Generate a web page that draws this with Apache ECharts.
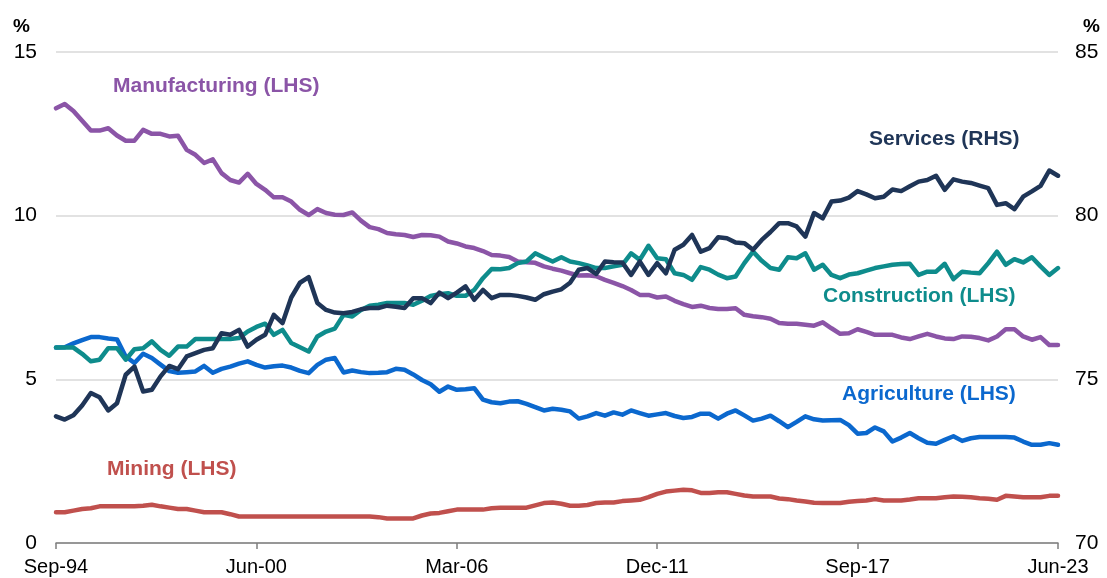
<!DOCTYPE html>
<html>
<head>
<meta charset="utf-8">
<script src="https://cdn.jsdelivr.net/npm/echarts@6/dist/echarts.min.js"></script>
<style>
  html, body { margin: 0; padding: 0; background: #fff; }
  #chart { width: 1107px; height: 578px; }
</style>
</head>
<body>
<div id="chart"></div>
<script>
// quarterly, Sep-94 .. Jun-23
const quarterNames = ['Mar', 'Jun', 'Sep', 'Dec'];
const quarters = [];
for (let k = 0; k < 116; k++) {
  const q = (2 + k) % 4;
  const yr = 1994 + Math.floor((2 + k) / 4);
  quarters.push(quarterNames[q] + '-' + String(yr % 100).padStart(2, '0'));
}

const leftTicks = [0, 5, 10, 15];
const rightTicks = [70, 75, 80, 85];

// share of employment, % (LHS)
const manufacturing = [13.28, 13.41, 13.2, 12.9, 12.6, 12.6, 12.67, 12.45, 12.29, 12.29,
  12.62, 12.5, 12.5, 12.42, 12.44, 12.01, 11.86, 11.61, 11.72, 11.3,
  11.09, 11.01, 11.28, 10.97, 10.79, 10.56, 10.56, 10.43, 10.18, 10.02,
  10.2, 10.08, 10.03, 10.02, 10.1, 9.85, 9.65, 9.59, 9.47, 9.43,
  9.41, 9.35, 9.41, 9.4, 9.36, 9.21, 9.15, 9.06, 9.01, 8.92,
  8.8, 8.78, 8.74, 8.6, 8.58, 8.56, 8.45, 8.38, 8.32, 8.24,
  8.17, 8.18, 8.15, 8.04, 7.95, 7.85, 7.73, 7.58, 7.58, 7.5,
  7.53, 7.4, 7.3, 7.21, 7.25, 7.18, 7.15, 7.15, 7.17, 6.97,
  6.93, 6.9, 6.85, 6.72, 6.7, 6.7, 6.67, 6.64, 6.74, 6.56,
  6.39, 6.41, 6.53, 6.45, 6.36, 6.36, 6.36, 6.28, 6.23, 6.31,
  6.39, 6.31, 6.25, 6.23, 6.31, 6.3, 6.26, 6.19, 6.31, 6.53,
  6.53, 6.31, 6.21, 6.29, 6.05, 6.05];

const construction = [5.97, 5.97, 5.97, 5.78, 5.55, 5.6, 5.95, 5.95, 5.6, 5.92,
  5.95, 6.16, 5.9, 5.72, 6.0, 6.0, 6.23, 6.23, 6.23, 6.23,
  6.23, 6.26, 6.46, 6.6, 6.7, 6.36, 6.51, 6.11, 5.98, 5.85,
  6.31, 6.46, 6.55, 6.97, 6.92, 7.12, 7.25, 7.28, 7.33, 7.33,
  7.33, 7.28, 7.4, 7.55, 7.6, 7.63, 7.55, 7.55, 7.73, 8.09,
  8.37, 8.36, 8.4, 8.55, 8.6, 8.85, 8.72, 8.6, 8.73, 8.6,
  8.55, 8.48, 8.4, 8.4, 8.45, 8.5, 8.85, 8.65, 9.08, 8.7,
  8.67, 8.24, 8.19, 8.04, 8.43, 8.35, 8.2, 8.09, 8.14, 8.55,
  8.9, 8.62, 8.4, 8.35, 8.73, 8.7, 8.85, 8.35, 8.5, 8.19,
  8.09, 8.2, 8.24, 8.32, 8.4, 8.45, 8.5, 8.52, 8.53, 8.19,
  8.29, 8.29, 8.53, 8.06, 8.29, 8.26, 8.24, 8.55, 8.9, 8.5,
  8.67, 8.57, 8.73, 8.45, 8.19, 8.4];

const agriculture = [5.97, 5.98, 6.1, 6.2, 6.29, 6.29, 6.25, 6.22, 5.7, 5.5,
  5.78, 5.65, 5.45, 5.25, 5.2, 5.22, 5.24, 5.41, 5.2, 5.32,
  5.39, 5.48, 5.55, 5.44, 5.36, 5.4, 5.42, 5.36, 5.26, 5.19,
  5.44, 5.6, 5.65, 5.21, 5.27, 5.22, 5.19, 5.2, 5.22, 5.32,
  5.29, 5.15, 4.98, 4.85, 4.62, 4.78, 4.68, 4.7, 4.73, 4.38,
  4.3, 4.27, 4.32, 4.33, 4.25, 4.15, 4.05, 4.1, 4.07, 4.02,
  3.8, 3.87, 3.97, 3.89, 3.99, 3.92, 4.05, 3.97, 3.89, 3.93,
  3.97, 3.88, 3.82, 3.85, 3.95, 3.95, 3.8, 3.95, 4.05, 3.9,
  3.74, 3.8, 3.89, 3.72, 3.54, 3.7, 3.87, 3.78, 3.74, 3.75,
  3.76, 3.6, 3.34, 3.36, 3.53, 3.41, 3.1, 3.22, 3.36, 3.2,
  3.06, 3.03, 3.15, 3.26, 3.12, 3.2, 3.24, 3.24, 3.24, 3.24,
  3.22, 3.1, 3.0, 3.0, 3.05, 3.0];

const mining = [0.94, 0.94, 0.99, 1.04, 1.06, 1.12, 1.12, 1.12, 1.12, 1.12,
  1.14, 1.17, 1.12, 1.08, 1.04, 1.04, 0.99, 0.94, 0.94, 0.94,
  0.88, 0.81, 0.81, 0.81, 0.81, 0.81, 0.81, 0.81, 0.81, 0.81,
  0.81, 0.81, 0.81, 0.81, 0.81, 0.81, 0.81, 0.79, 0.75, 0.75,
  0.75, 0.75, 0.84, 0.9, 0.92, 0.97, 1.02, 1.02, 1.02, 1.02,
  1.06, 1.08, 1.08, 1.08, 1.08, 1.15, 1.22, 1.24, 1.2, 1.14,
  1.14, 1.16, 1.22, 1.24, 1.24, 1.28, 1.3, 1.32, 1.4, 1.5,
  1.57, 1.6, 1.63, 1.61, 1.53, 1.53, 1.55, 1.55, 1.5, 1.45,
  1.42, 1.42, 1.42, 1.36, 1.34, 1.3, 1.27, 1.23, 1.22, 1.22,
  1.22, 1.26, 1.28, 1.3, 1.34, 1.3, 1.3, 1.3, 1.33, 1.37,
  1.37, 1.37, 1.4, 1.42, 1.41, 1.4, 1.37, 1.35, 1.32, 1.44,
  1.42, 1.4, 1.4, 1.4, 1.44, 1.44];

// services, % (RHS)
const services = [73.87, 73.77, 73.9, 74.2, 74.58, 74.45, 74.05, 74.27, 75.14, 75.39,
  74.63, 74.68, 75.09, 75.41, 75.31, 75.7, 75.8, 75.9, 75.95, 76.41,
  76.36, 76.51, 76.0, 76.21, 76.36, 76.97, 76.72, 77.5, 77.95, 78.12,
  77.33, 77.12, 77.04, 77.02, 77.06, 77.14, 77.18, 77.18, 77.25, 77.22,
  77.18, 77.48, 77.48, 77.33, 77.65, 77.48, 77.65, 77.84, 77.43, 77.73,
  77.48, 77.58, 77.58, 77.55, 77.5, 77.43, 77.6, 77.68, 77.75, 77.95,
  78.35, 78.4, 78.22, 78.6, 78.58, 78.57, 78.19, 78.6, 78.19, 78.55,
  78.24, 78.96, 79.11, 79.41, 78.9, 79.01, 79.34, 79.31, 79.18, 79.16,
  78.96, 79.26, 79.5, 79.77, 79.77, 79.67, 79.36, 80.08, 79.92, 80.43,
  80.46, 80.55, 80.75, 80.65, 80.53, 80.58, 80.8, 80.75, 80.9, 81.04,
  81.09, 81.22, 80.79, 81.11, 81.04, 81.0, 80.92, 80.84, 80.33, 80.38,
  80.2, 80.58, 80.74, 80.91, 81.38, 81.22];

const FONT = "'Liberation Sans', Arial, sans-serif";
const purple = '#8B55A7';
const navy = '#1F3557';
const teal = '#0E8C8C';
const blue = '#0B68CE';
const red = '#C0504D';

const chart = echarts.init(document.getElementById('chart'), null, { renderer: 'canvas' });

function lineSeries(name, data, color, axis, z) {
  return {
    name: name,
    type: 'line',
    yAxisIndex: axis,
    data: data,
    symbol: 'none',
    smooth: false,
    z: z,
    lineStyle: { color: color, width: 4.5, join: 'round', cap: 'round' },
    emphasis: { disabled: true }
  };
}

function tag(text, x, y, color) {
  return {
    type: 'text',
    left: x,
    top: y,
    style: {
      text: text,
      fill: color,
      font: 'bold 21px ' + FONT,
      textVerticalAlign: 'middle'
    }
  };
}

const option = {
  animation: false,
  backgroundColor: '#fff',
  grid: { left: 56, right: 49, top: 52, bottom: 35, containLabel: false },
  xAxis: {
    type: 'category',
    data: quarters,
    boundaryGap: false,
    axisLine: { lineStyle: { color: '#7f7f7f', width: 1.5 } },
    axisTick: { show: true, interval: 22, length: 6, lineStyle: { color: '#7f7f7f', width: 1.5 } },
    axisLabel: {
      interval: 22,
      color: '#000',
      fontFamily: FONT,
      fontSize: 20,
      margin: 14,
      showMinLabel: true,
      showMaxLabel: true
    },
    splitLine: { show: false }
  },
  yAxis: [
    {
      type: 'value',
      min: leftTicks[0],
      max: leftTicks[leftTicks.length - 1],
      interval: 5,
      axisLine: { show: false },
      axisTick: { show: false },
      axisLabel: { color: '#000', fontFamily: FONT, fontSize: 21, margin: 19 },
      splitLine: { lineStyle: { color: '#d9d9d9', width: 1.5 } }
    },
    {
      type: 'value',
      min: rightTicks[0],
      max: rightTicks[rightTicks.length - 1],
      interval: 5,
      axisLine: { show: false },
      axisTick: { show: false },
      axisLabel: { color: '#000', fontFamily: FONT, fontSize: 21, margin: 17 },
      splitLine: { show: false }
    }
  ],
  series: [
    lineSeries('Mining', mining, red, 0, 2),
    lineSeries('Agriculture', agriculture, blue, 0, 3),
    lineSeries('Manufacturing', manufacturing, purple, 0, 4),
    lineSeries('Construction', construction, teal, 0, 5),
    lineSeries('Services', services, navy, 1, 6)
  ],
  graphic: [
    { type: 'text', left: 13, top: 17, style: { text: '%', fill: '#000', font: 'bold 19px ' + FONT, textVerticalAlign: 'middle' } },
    { type: 'text', left: 1083, top: 17, style: { text: '%', fill: '#000', font: 'bold 19px ' + FONT, textVerticalAlign: 'middle' } },
    tag('Manufacturing (LHS)', 113, 76, purple),
    tag('Services (RHS)', 869, 129, navy),
    tag('Construction (LHS)', 823, 286, teal),
    tag('Agriculture (LHS)', 842, 384, blue),
    tag('Mining (LHS)', 107, 459, red)
  ]
};

chart.setOption(option);
</script>
</body>
</html>
